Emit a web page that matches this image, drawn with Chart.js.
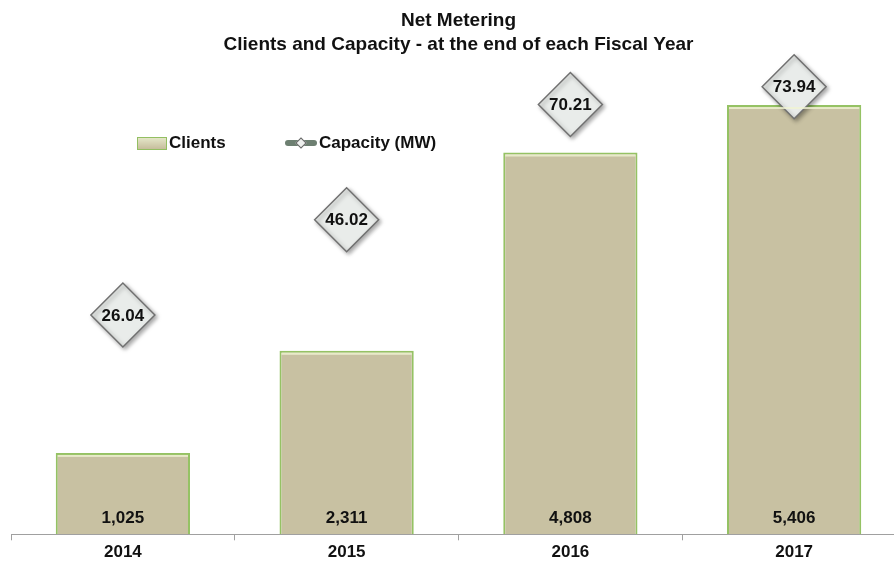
<!DOCTYPE html>
<html>
<head>
<meta charset="utf-8">
<script src="https://cdn.jsdelivr.net/npm/chart.js@4/dist/chart.umd.min.js"></script>
<style>
  html, body { margin: 0; padding: 0; background: #fff; overflow: hidden; }
  #wrap { position: relative; width: 894px; height: 565px; overflow: hidden; }
  .legend { position: absolute; top: 133px; font: bold 17px "Liberation Sans", Arial, sans-serif; color: #111; display: flex; align-items: center; }
  .swatch-bar { width: 28px; height: 11px; background: linear-gradient(#e4e6c8, #c6bd9c); border: 1px solid #93bf62; margin-right: 2px; }
  .swatch-line { position: relative; width: 32px; height: 6px; background: #6d7f71; border-radius: 3px; margin-right: 2px; }
  .swatch-line::after { content: ""; position: absolute; left: 12px; top: -1px; width: 6px; height: 6px; background: #eef0ee; border: 1px solid #666; transform: rotate(45deg); }
</style>
</head>
<body>
<div id="wrap">
  <canvas id="netChart" width="916" height="565"></canvas>
  <div class="legend" style="left:137px"><span class="swatch-bar"></span>Clients</div>
  <div class="legend" style="left:285px"><span class="swatch-line"></span>Capacity (MW)</div>
</div>
<script>
const years = ["2014", "2015", "2016", "2017"];
const clients = [1025, 2311, 4808, 5406];
const capacity = [26.04, 46.02, 70.21, 73.94];

const fontFamily = '"Liberation Sans", Arial, sans-serif';

// draws the value labels (bar bottoms and inside the diamonds)
const valueLabels = {
  id: 'valueLabels',
  afterDatasetsDraw(chart) {
    const ctx = chart.ctx;
    ctx.save();
    ctx.fillStyle = '#111';
    ctx.textAlign = 'center';
    ctx.textBaseline = 'middle';

    const bars = chart.getDatasetMeta(0).data;
    ctx.font = 'bold 17px ' + fontFamily;
    bars.forEach((bar, i) => {
      // thin light bevel under the top edge
      ctx.fillStyle = 'rgba(240,244,210,0.8)';
      ctx.fillRect(bar.x - bar.width / 2 + 2, bar.y + 2, bar.width - 4, 2);
      ctx.fillStyle = '#111';
      ctx.fillText(clients[i].toLocaleString('en-US'), bar.x, bar.base - 16);
    });

    const pts = chart.getDatasetMeta(1).data;
    ctx.font = 'bold 17px ' + fontFamily;
    pts.forEach((p, i) => {
      ctx.fillText(capacity[i].toFixed(2), p.x, p.y + 1);
    });
    ctx.restore();
  }
};

// soft shadow under the diamonds
const diamondShadow = {
  id: 'diamondShadow',
  beforeDatasetDraw(chart, args) {
    if (args.index !== 1) return;
    const ctx = chart.ctx;
    ctx.save();
    ctx.shadowColor = 'rgba(0,0,0,0.35)';
    ctx.shadowBlur = 4;
    ctx.shadowOffsetX = 2;
    ctx.shadowOffsetY = 2;
  },
  afterDatasetDraw(chart, args) {
    if (args.index !== 1) return;
    chart.ctx.restore();
  }
};

const ctx = document.getElementById('netChart').getContext('2d');
const netChart = new Chart(ctx, {
  data: {
    labels: years,
    datasets: [{
      type: 'bar',
      label: 'Clients',
      data: clients,
      yAxisID: 'y',
      backgroundColor: '#c8c1a2',
      borderColor: '#95c264',
      borderWidth: { top: 2, left: 2, right: 2, bottom: 0 },
      borderSkipped: false,
      barPercentage: 0.6,
      categoryPercentage: 1,
      order: 2
    }, {
      type: 'line',
      label: 'Capacity (MW)',
      data: capacity,
      yAxisID: 'y2',
      showLine: false,
      clip: false,
      pointStyle: 'rectRot',
      pointRadius: 32,
      pointHoverRadius: 32,
      pointBackgroundColor: '#e9ecea',
      pointBorderColor: '#707070',
      pointBorderWidth: 1.5,
      order: 1
    }]
  },
  options: {
    responsive: false,
    animation: false,
    events: [],
    layout: { autoPadding: false, padding: { left: 11, right: 10, top: 0, bottom: 0 } },
    plugins: {
      legend: { display: false },
      tooltip: { enabled: false },
      title: {
        display: true,
        text: ['Net Metering', 'Clients and Capacity - at the end of each Fiscal Year'],
        color: '#111',
        font: { family: fontFamily, size: 19, weight: 'bold', lineHeight: 1.26 },
        padding: { top: 9, bottom: 1 }
      }
    },
    scales: {
      x: {
        grid: { display: true, drawOnChartArea: false, drawTicks: true, tickLength: 6, color: '#a0a0a0' },
        border: { display: true, color: '#a0a0a0' },
        ticks: { color: '#111', font: { family: fontFamily, size: 17, weight: 'bold', lineHeight: 1.1 }, padding: 3 }
      },
      y: { display: false, min: 0, max: 6000 },
      y2: { display: false, min: -20, max: 80 }
    }
  },
  plugins: [valueLabels, diamondShadow]
});
</script>
</body>
</html>
